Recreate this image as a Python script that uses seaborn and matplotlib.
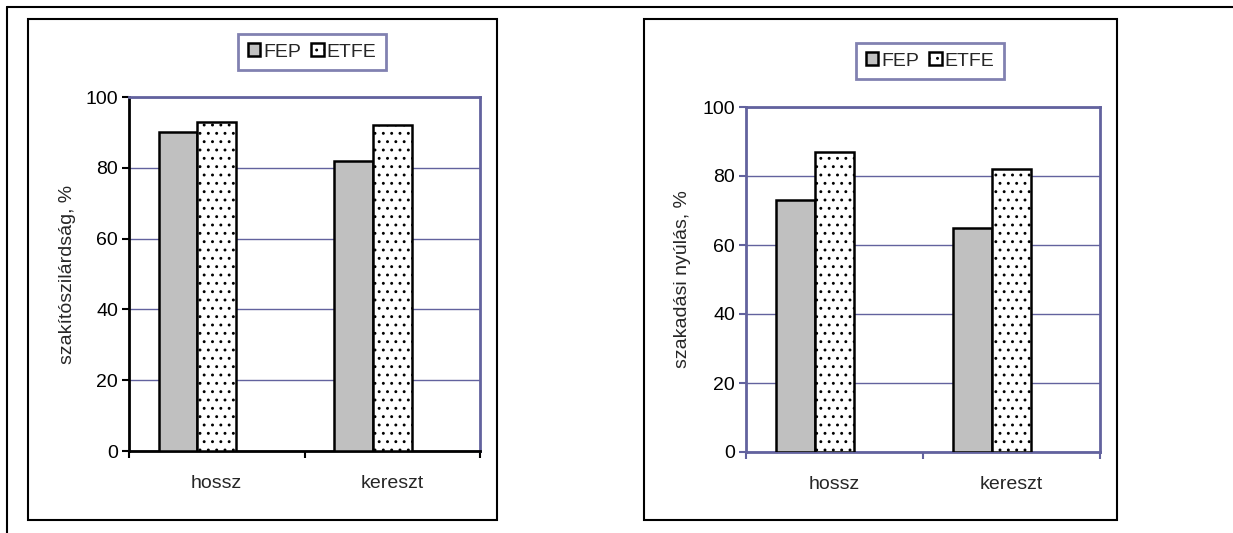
import pandas as pd
import matplotlib.pyplot as plt
import seaborn as sns
from matplotlib.patches import Rectangle, Patch
from matplotlib.lines import Line2D

# adatok
kategoriak = ['hossz', 'kereszt']
anyagok = ['FEP', 'ETFE']
szakito_fep = [90, 82]
szakito_etfe = [93, 92]
nyulas_fep = [73, 65]
nyulas_etfe = [87, 82]
ylabels = ['szakítószilárdság, %', 'szakadási nyúlás, %']
yticks = [0, 20, 40, 60, 80, 100]

LILA = '#62629e'
SZURKE = '#c0c0c0'
BETU = 14

sns.set_style('white')
plt.rcParams['font.family'] = ['Liberation Sans', 'DejaVu Sans']
plt.rcParams['hatch.linewidth'] = 0.9
plt.rcParams['hatch.color'] = '#333333'

fig = plt.figure(figsize=(12.33, 5.33), dpi=100)
W, H = 1233, 533


def px_rect(x0, y0, x1, y1):
    # pixel koordinatak -> figure arany
    return [x0 / W, 1 - y1 / H, (x1 - x0) / W, (y1 - y0) / H]


def keret(x0, y0, x1, y1):
    fig.add_artist(Rectangle((x0 / W, 1 - y1 / H), (x1 - x0) / W, (y1 - y0) / H,
                             transform=fig.transFigure, fill=False,
                             edgecolor='black', linewidth=1.5))


# kulso vonalak
fig.add_artist(Line2D([7 / W, 7 / W], [0, 1 - 7 / H], transform=fig.transFigure,
                      color='black', linewidth=1.5))
fig.add_artist(Line2D([7 / W, 1], [1 - 7 / H, 1 - 7 / H], transform=fig.transFigure,
                      color='black', linewidth=1.5))
keret(28, 19, 497, 520)
keret(644, 19, 1117, 520)

tengelyek = [px_rect(129, 97, 480, 451), px_rect(746, 107, 1100, 452)]
legend_hely = [(312 / W, 1 - 52 / H), (930 / W, 1 - 61 / H)]
ylabel_x = [-0.151, -0.155]
adatsorok = [(szakito_fep, szakito_etfe), (nyulas_fep, nyulas_etfe)]
eltolas = 0.11

for i, (fep, etfe) in enumerate(adatsorok):
    ax = fig.add_axes(tengelyek[i])
    df = pd.DataFrame({
        'kat': kategoriak * 2,
        'anyag': ['FEP'] * 2 + ['ETFE'] * 2,
        'ertek': fep + etfe,
    })
    sns.barplot(data=df, x='kat', y='ertek', hue='anyag', hue_order=anyagok,
                palette={'FEP': SZURKE, 'ETFE': 'white'}, width=0.44,
                edgecolor='black', linewidth=1.8, saturation=1, ax=ax,
                legend=False, zorder=3)
    for p in ax.containers[1]:
        p.set_hatch('..')
        p.set_edgecolor('black')

    ax.set_ylim(0, 100)
    ax.set_xlim(-0.5 + eltolas, 1.5 + eltolas)
    ax.set_yticks(yticks)
    ax.set_yticklabels([str(t) for t in yticks], fontsize=BETU)
    ax.set_xticks([-0.5 + eltolas, 0.5 + eltolas, 1.5 + eltolas])
    ax.set_xticklabels([])
    ax.set_xticks([0 + eltolas, 1 + eltolas], minor=True)
    ax.set_xticklabels(kategoriak, minor=True, fontsize=BETU)
    ax.tick_params(axis='x', which='minor', length=0, pad=17)
    ax.tick_params(axis='both', which='major', direction='out', length=5, width=1.5,
                   left=True, bottom=True, pad=3)
    ax.set_xlabel('')
    ax.set_ylabel(ylabels[i], fontsize=BETU)
    ax.yaxis.set_label_coords(ylabel_x[i], 0.5)
    ax.grid(axis='y', color=LILA, linewidth=1, zorder=0)
    ax.set_axisbelow(True)

    for s in ['top', 'right']:
        ax.spines[s].set_color(LILA)
        ax.spines[s].set_linewidth(2)
    for s in ['left', 'bottom']:
        ax.spines[s].set_linewidth(2)
        ax.spines[s].set_color('black' if i == 0 else LILA)
    ax.tick_params(colors='black' if i == 0 else LILA, labelcolor='black', which='major')

    kezelok = [Patch(facecolor=SZURKE, edgecolor='black', linewidth=1.8, label='FEP'),
               Patch(facecolor='white', edgecolor='black', linewidth=1.8, hatch='..',
                     label='ETFE')]
    leg = fig.legend(handles=kezelok, loc='center', bbox_to_anchor=legend_hely[i],
                     ncol=2, fontsize=BETU, frameon=True, fancybox=False,
                     handlelength=0.65, handleheight=0.65, handletextpad=0.15,
                     columnspacing=0.5, borderpad=0.5, borderaxespad=0)
    leg.get_frame().set_edgecolor(LILA)
    leg.get_frame().set_linewidth(2)

fig.savefig('out.png', dpi=100)
